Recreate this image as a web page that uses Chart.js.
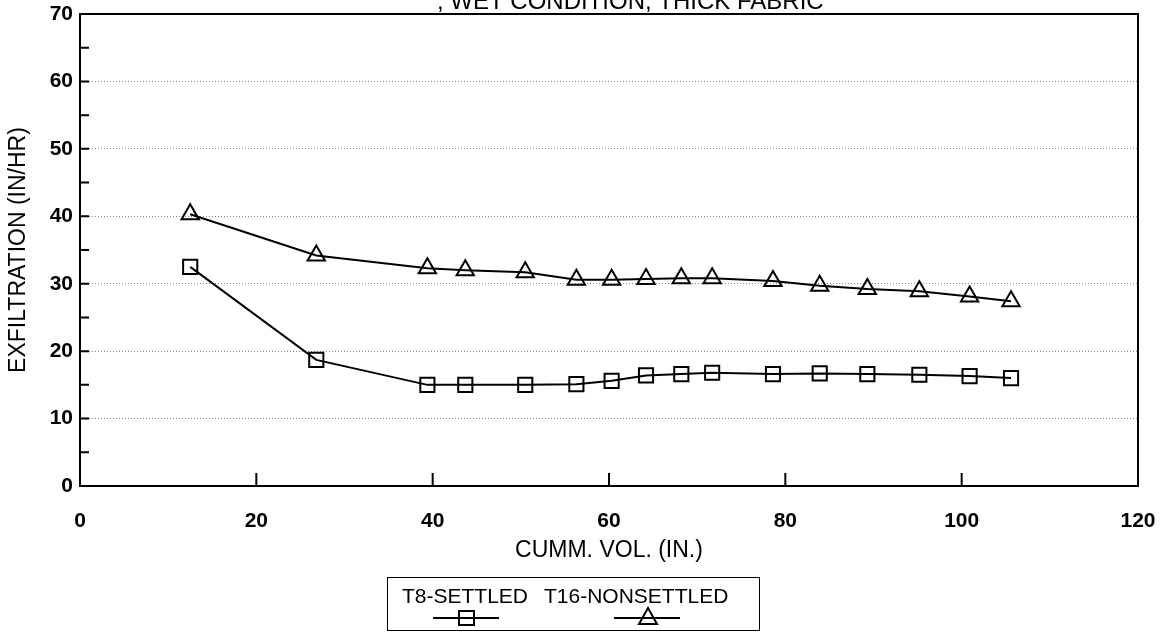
<!DOCTYPE html>
<html>
<head>
<meta charset="utf-8">
<script src="https://cdn.jsdelivr.net/npm/chart.js@4.4.1/dist/chart.umd.min.js"></script>
<style>
    body { margin: 0; background: #fff; }
    #wrap { position: relative; width: 1167px; height: 632px; overflow: hidden; }
    #legend {
        position: absolute; left: 387px; top: 577px; width: 373px; height: 54px;
        border: 1.5px solid #000; box-sizing: border-box;
        font-family: 'Liberation Sans', Arial, sans-serif; font-size: 21px; color: #000;
    }
    #legend .item { position: absolute; top: 6px; }
    #legend svg { position: absolute; top: 28px; }
</style>
</head>
<body>
<div id="wrap">
    <canvas id="myChart" width="1167" height="632"></canvas>
    <div id="legend">
        <span class="item" style="left: 14px">T8-SETTLED</span>
        <span class="item" style="left: 156px">T16-NONSETTLED</span>
        <svg style="left: 43px" width="70" height="22">
            <line x1="2" y1="12" x2="68" y2="12" stroke="#000" stroke-width="2"/>
            <rect x="28" y="5" width="15" height="14" fill="none" stroke="#000" stroke-width="2"/>
        </svg>
        <svg style="left: 224px" width="70" height="22">
            <line x1="2" y1="12" x2="68" y2="12" stroke="#000" stroke-width="2"/>
            <polygon points="36,2 45,18 27,18" fill="none" stroke="#000" stroke-width="2"/>
        </svg>
    </div>
</div>
<script>
// -------------------------------------------------------------------------- Data

const cummVol = [12.5, 26.8, 39.4, 43.7, 50.5, 56.3, 60.3, 64.2, 68.2, 71.7, 78.6, 83.9, 89.3, 95.2, 100.9, 105.6]
const settled = [32.5, 18.7, 15.0, 15.0, 15.0, 15.1, 15.6, 16.4, 16.6, 16.8, 16.6, 16.7, 16.6, 16.5, 16.3, 16.0]
const nonSettled = [40.3, 34.2, 32.3, 32.0, 31.7, 30.6, 30.6, 30.7, 30.8, 30.8, 30.4, 29.7, 29.2, 28.9, 28.1, 27.4]
const xTicks = [0, 20, 40, 60, 80, 100, 120]
const yTicks = [0, 10, 20, 30, 40, 50, 60, 70]

const font = "'Liberation Sans', Arial, sans-serif"

const toPoints = (ys) => cummVol.map((x, i) => ({ x: x, y: ys[i] }))

// -------------------------------------------------------------------------- Plugins

// frame, inward ticks and the (cut off) title
const framePlugin = {
    id: 'frame',
    afterDatasetsDraw(chart) {
        const ctx = chart.ctx
        const a = chart.chartArea
        const xs = chart.scales.x
        const ys = chart.scales.y
        ctx.save()
        ctx.strokeStyle = '#000'
        ctx.lineWidth = 2
        ctx.strokeRect(a.left, a.top, a.right - a.left, a.bottom - a.top)
        ctx.beginPath()
        for (let v = 5; v < 70; v += 5) {
            const py = ys.getPixelForValue(v)
            ctx.moveTo(a.left, py)
            ctx.lineTo(a.left + 9, py)
        }
        xTicks.slice(1, -1).forEach(v => {
            const px = xs.getPixelForValue(v)
            ctx.moveTo(px, a.bottom)
            ctx.lineTo(px, a.bottom - 13)
        })
        ctx.stroke()

        ctx.fillStyle = '#000'
        ctx.font = '24px ' + font
        ctx.textAlign = 'left'
        ctx.textBaseline = 'alphabetic'
        ctx.fillText(', WET CONDITION, THICK FABRIC', 437, 9)
        ctx.restore()
    }
}

// -------------------------------------------------------------------------- Chart Config

const dataChart = {
    datasets: [{
        label: 'T8-SETTLED',
        data: toPoints(settled),
        borderColor: '#000',
        borderWidth: 2,
        pointStyle: 'rect',
        pointRadius: 10,
        pointBorderWidth: 2,
        pointBackgroundColor: 'rgba(0,0,0,0)',
        pointBorderColor: '#000'
    }, {
        label: 'T16-NONSETTLED',
        data: toPoints(nonSettled),
        borderColor: '#000',
        borderWidth: 2,
        pointStyle: 'triangle',
        pointRadius: 10,
        pointBorderWidth: 2,
        pointBackgroundColor: 'rgba(0,0,0,0)',
        pointBorderColor: '#000'
    }]
}

const configChart = {
    type: 'line',
    data: dataChart,
    options: {
        responsive: false,
        animation: false,
        layout: {
            padding: { top: 14, right: 29, left: 0, bottom: 0 }
        },
        plugins: {
            legend: { display: false },
            tooltip: { enabled: false }
        },
        scales: {
            x: {
                type: 'linear',
                min: 0,
                max: 120,
                afterFit(scale) {
                    scale.height = 146
                    scale.paddingLeft = 0
                    scale.paddingRight = 0
                },
                afterBuildTicks(scale) { scale.ticks = xTicks.map(v => ({ value: v })) },
                grid: { display: false },
                border: { display: false },
                ticks: {
                    color: '#000',
                    padding: 15,
                    font: { family: font, size: 21, weight: 'bold' }
                },
                title: {
                    display: true,
                    text: 'CUMM. VOL. (IN.)',
                    color: '#000',
                    font: { family: font, size: 23 },
                    padding: { top: 0, bottom: 68 }
                }
            },
            y: {
                min: 0,
                max: 70,
                afterFit(scale) {
                    scale.width = 80
                    scale.paddingTop = 0
                    scale.paddingBottom = 0
                },
                afterBuildTicks(scale) { scale.ticks = yTicks.map(v => ({ value: v })) },
                grid: { color: '#888', lineWidth: 1, drawTicks: false },
                border: { display: false, dash: [1, 2] },
                ticks: {
                    color: '#000',
                    padding: 7,
                    font: { family: font, size: 21, weight: 'bold' }
                },
                title: {
                    display: true,
                    text: 'EXFILTRATION (IN/HR)',
                    color: '#000',
                    font: { family: font, size: 23 },
                    padding: { top: 5, bottom: 0 }
                }
            }
        }
    },
    plugins: [framePlugin]
}

// -------------------------------------------------------------------------- Render Chart

let myChart = new Chart(
    document.getElementById('myChart'),
    configChart
)
</script>
</body>
</html>
